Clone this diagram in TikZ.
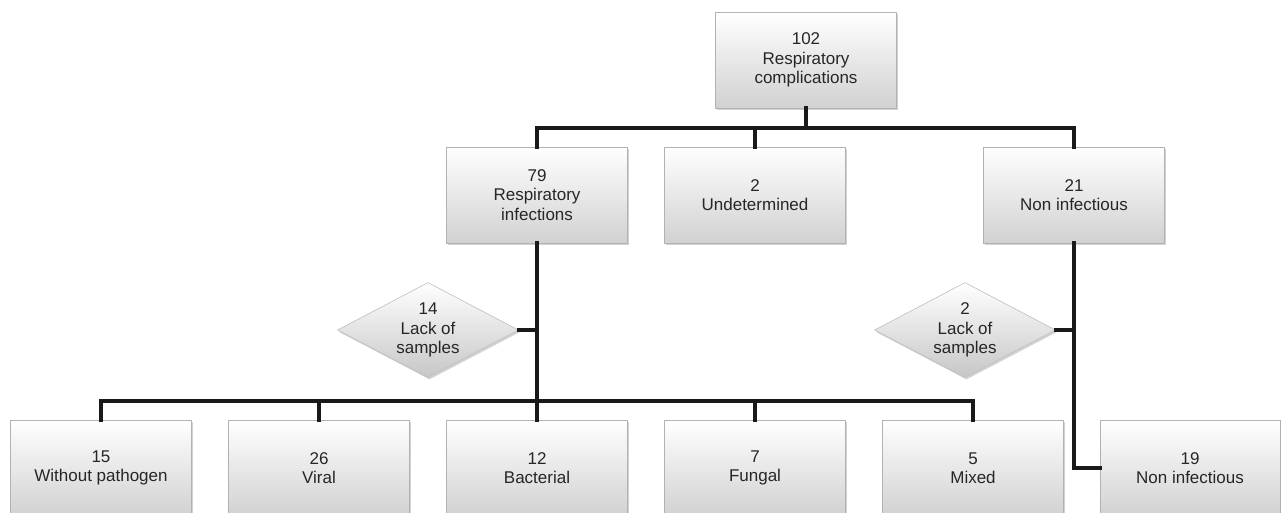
\documentclass[tikz,border=0pt]{standalone}
\usepackage{fontspec}
\setmainfont{Liberation Sans}
\usetikzlibrary{shapes.geometric,shadows}
\begin{document}
\begin{tikzpicture}[x=1pt,y=-1pt,
  boxnode/.style={rectangle, draw=black!30, line width=0.6pt, top color=white, bottom color=black!18,
    minimum width=181pt, minimum height=96pt, inner sep=0pt, align=center,
    font=\fontsize{17}{19.5}\selectfont, text=black!85,
    drop shadow={shadow xshift=1.5pt, shadow yshift=-2pt, opacity=0.35}},
  diam/.style={diamond, draw=black!25, line width=0.6pt, top color=white, bottom color=black!22,
    minimum width=181pt, minimum height=95pt, inner sep=0pt,
    drop shadow={shadow xshift=1.5pt, shadow yshift=-2pt, opacity=0.35}},
  dtext/.style={align=center, font=\fontsize{17}{19.5}\selectfont, text=black!85, inner sep=0pt},
  conn/.style={line width=4pt, black!90, line join=miter, line cap=rect}]
\useasboundingbox (0,0) rectangle (1281,512);
\clip (0,0) rectangle (1281,512);
\fill[white] (0,0) rectangle (1281,512);

\coordinate (h1) at (806,128);
\coordinate (h2) at (537,401);

\node[boxnode] (top) at (806,60) {102\\Respiratory\\complications};
\node[boxnode] (r79) at (537,195) {79\\Respiratory\\infections};
\node[boxnode] (und) at (755,195) {2\\Undetermined};
\node[boxnode] (non) at (1074,195) {21\\Non infectious};

\node[diam] (d14) at (428,330) {};
\node[dtext] (t14) at (d14.center) {14\\Lack of\\samples};
\node[diam] (d2) at (965,330) {};
\node[dtext] (t2) at (d2.center) {2\\Lack of\\samples};

\node[boxnode] (b1) at (101,468) {15\\Without pathogen};
\node[boxnode] (b2) at (319,468) {26\\Viral};
\node[boxnode] (b3) at (537,468) {12\\Bacterial};
\node[boxnode] (b4) at (755,468) {7\\Fungal};
\node[boxnode] (b5) at (973,468) {5\\Mixed};
\node[boxnode, minimum width=180pt] (b19) at (1190,468) {19\\Non infectious};

\draw[conn] (top.south) -- (h1);
\draw[conn] (r79.north) -- (r79.north |- h1) -- (non.north |- h1) -- (non.north);
\draw[conn] (und.north) -- (und.north |- h1);
\draw[conn] (r79.south) -- (b3.north);
\draw[conn] (b1.north) -- (b1.north |- h2) -- (b5.north |- h2) -- (b5.north);
\draw[conn] (b2.north) -- (b2.north |- h2);
\draw[conn] (b4.north) -- (b4.north |- h2);
\draw[conn] (d14.east) -- (d14.east -| r79.south);
\draw[conn] (non.south) -- (non.south |- b19.west) -- (b19.west);
\draw[conn] (d2.east) -- (d2.east -| non.south);
\end{tikzpicture}
\end{document}
